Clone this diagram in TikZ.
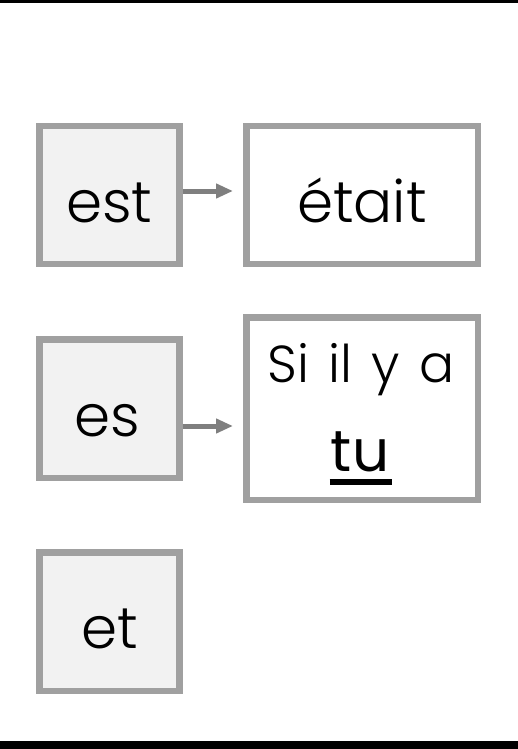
\documentclass[tikz,border=0pt]{standalone}
\usepackage{fontspec}
\usetikzlibrary{arrows.meta}
\newfontfamily\lightf{Poppins Light}
\newfontfamily\lightwide{Poppins Light}[WordSpace=1.35]
\newfontfamily\regf{Poppins}
\definecolor{bordergray}{HTML}{A0A0A0}
\definecolor{arrowgray}{HTML}{7F7F7F}
\definecolor{boxfill}{HTML}{F2F2F2}
\tikzset{
  wordbox/.style={draw=bordergray, line width=6.5pt, fill=boxfill, inner sep=0pt, minimum width=140.2pt},
  resbox/.style={draw=bordergray, line width=6.5pt, fill=white, inner sep=0pt, minimum width=231.5pt},
  bigword/.style={anchor=base, inner sep=0pt, font=\lightf\fontsize{58}{60}\selectfont},
  midword/.style={anchor=base, inner sep=0pt, font=\lightwide\fontsize{52}{54}\selectfont},
  boldword/.style={anchor=base, inner sep=0pt, font=\regf\fontsize{58}{60}\selectfont},
  arr/.style={draw=arrowgray, line width=5pt, -{Triangle[length=17pt 0 0,width=14pt 0 0]}},
  bar/.style={fill=black}
}
\begin{document}
\begin{tikzpicture}[x=1pt,y=-1pt]
\useasboundingbox (0,0) rectangle (518,749);
\fill[bar] (0,0) rectangle (518,3);
\fill[bar] (0,741) rectangle (518,749);
% boxes
\node[wordbox, minimum height=137.5pt] (est) at (109.35,195) {};
\node[resbox, minimum height=137.5pt] (etait) at (362,195) {};
\node[wordbox, minimum height=138.5pt] (es) at (109.35,408.5) {};
\node[resbox, minimum height=182.5pt] (siil) at (362,408.5) {};
\node[wordbox, minimum height=138.5pt] (et) at (109.35,621.5) {};
% texts
\node[bigword] (estT) at (109.3,222.5) {est};
\node[bigword] (etaitT) at (362,222) {était};
\node[bigword] (esT) at (107.5,436) {es};
\node[bigword] (etT) at (109.5,648) {et};
\node[midword] (siilT) at (361,382.5) {Si il y a};
\node[boldword] (tuT) at (360,471) {tu};
\draw[line width=6pt] ([yshift=-11pt,xshift=-1pt]tuT.base west) -- ([yshift=-11pt,xshift=3pt]tuT.base east);
% arrows
\draw[arr] ([yshift=4pt]est.east) -- ([yshift=4pt,xshift=-10pt]etait.west);
\draw[arr] ([yshift=-17.5pt]es.east) -- ([yshift=-17.5pt,xshift=-10pt]es.east -| siil.west);
\end{tikzpicture}
\end{document}
